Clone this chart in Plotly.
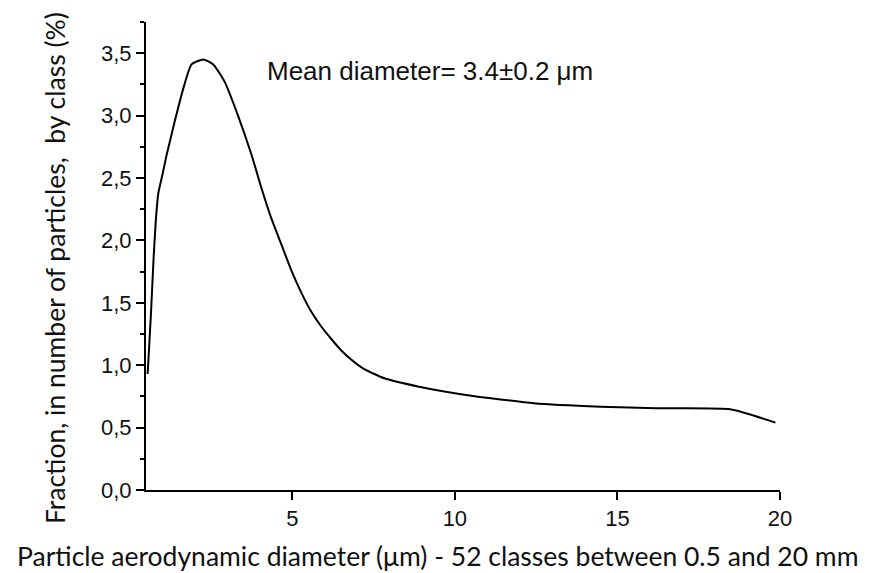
import plotly.graph_objects as go

# Particle aerodynamic diameter (µm) and fraction (%)
diameter = [0.55, 0.65, 0.73, 0.80, 0.88, 1.00, 1.13, 1.39, 1.65, 1.90, 2.26, 2.57,
            2.92, 3.33, 3.74, 4.05, 4.35, 4.66, 4.97, 5.28, 5.58, 5.89, 6.20,
            6.50, 6.81, 7.20, 7.83, 8.86, 10.39, 12.43, 14.48, 16.20, 18.47, 19.86]
fraction = [0.93, 1.40, 1.84, 2.15, 2.38, 2.52, 2.68, 2.96, 3.22, 3.41, 3.45, 3.41,
            3.27, 3.00, 2.69, 2.42, 2.18, 1.97, 1.76, 1.58, 1.43, 1.31, 1.21,
            1.12, 1.045, 0.97, 0.895, 0.83, 0.76, 0.695, 0.667, 0.655, 0.647, 0.54]

y_tickvals = [0.0, 0.5, 1.0, 1.5, 2.0, 2.5, 3.0, 3.5]
y_ticktext = ["0,0", "0,5", "1,0", "1,5", "2,0", "2,5", "3,0", "3,5"]
x_tickvals = [5, 10, 15, 20]
x_ticktext = ["5", "10", "15", "20"]

annotation_text = "Mean diameter= 3.4±0.2 μm"
x_title = "Particle aerodynamic diameter (μm) - 52 classes between 0.5 and 20 mm"
y_title = "Fraction, in number of particles,\u00a0 by class (%)"

fig = go.Figure()
fig.add_trace(go.Scatter(x=diameter, y=fraction, mode="lines",
                         line=dict(color="black", width=2, shape="spline", smoothing=0.5),
                         showlegend=False))

tick_font = dict(family="Liberation Sans, Arial, sans-serif", size=22, color="#111")
title_font = dict(family="Lato, sans-serif", size=26.5, color="#111")

# page has an 8px body margin, so the figure origin sits at (8, 8)
FW, FH = 862, 565
L, T, W, H = 138, 14, 634, 468

fig.update_layout(
    width=FW, height=FH,
    margin=dict(l=L, r=FW - L - W, t=T, b=FH - T - H),
    paper_bgcolor="white", plot_bgcolor="white",
    xaxis=dict(range=[0.5, 20], showline=True, linecolor="black", linewidth=2,
               showgrid=False, zeroline=False, ticks="outside", ticklen=8, tickwidth=2,
               tickcolor="black", tickmode="array", tickvals=x_tickvals,
               ticktext=x_ticktext, tickfont=tick_font, automargin=False),
    yaxis=dict(range=[0, 3.75], showline=True, linecolor="black", linewidth=2,
               showgrid=False, zeroline=False, ticks="outside", ticklen=8, tickwidth=2,
               tickcolor="black", tickmode="array", tickvals=y_tickvals,
               ticktext=y_ticktext, tickfont=tick_font, automargin=False,
               minor=dict(tickmode="linear", tick0=0, dtick=0.25, ticks="outside",
                          ticklen=4, tickwidth=2, tickcolor="black", showgrid=False)),
)

# axis titles as paper-positioned annotations
fig.add_annotation(text=x_title, x=(437 - 146) / W, y=(490 - 556) / H,
                   xref="paper", yref="paper", xanchor="center", yanchor="middle",
                   showarrow=False, font=title_font)
fig.add_annotation(text=y_title, x=(55 - 146) / W, y=(490 - 268) / H,
                   xref="paper", yref="paper", xanchor="center", yanchor="middle",
                   textangle=-90, showarrow=False, font=title_font)

fig.add_annotation(text=annotation_text, x=(265 - 146) / W, y=(490 - 71) / H,
                   xref="paper", yref="paper", xanchor="left", yanchor="middle",
                   showarrow=False,
                   font=dict(family="Liberation Sans, Arial, sans-serif", size=26,
                             color="#111"))

fig.write_html("out.html")
